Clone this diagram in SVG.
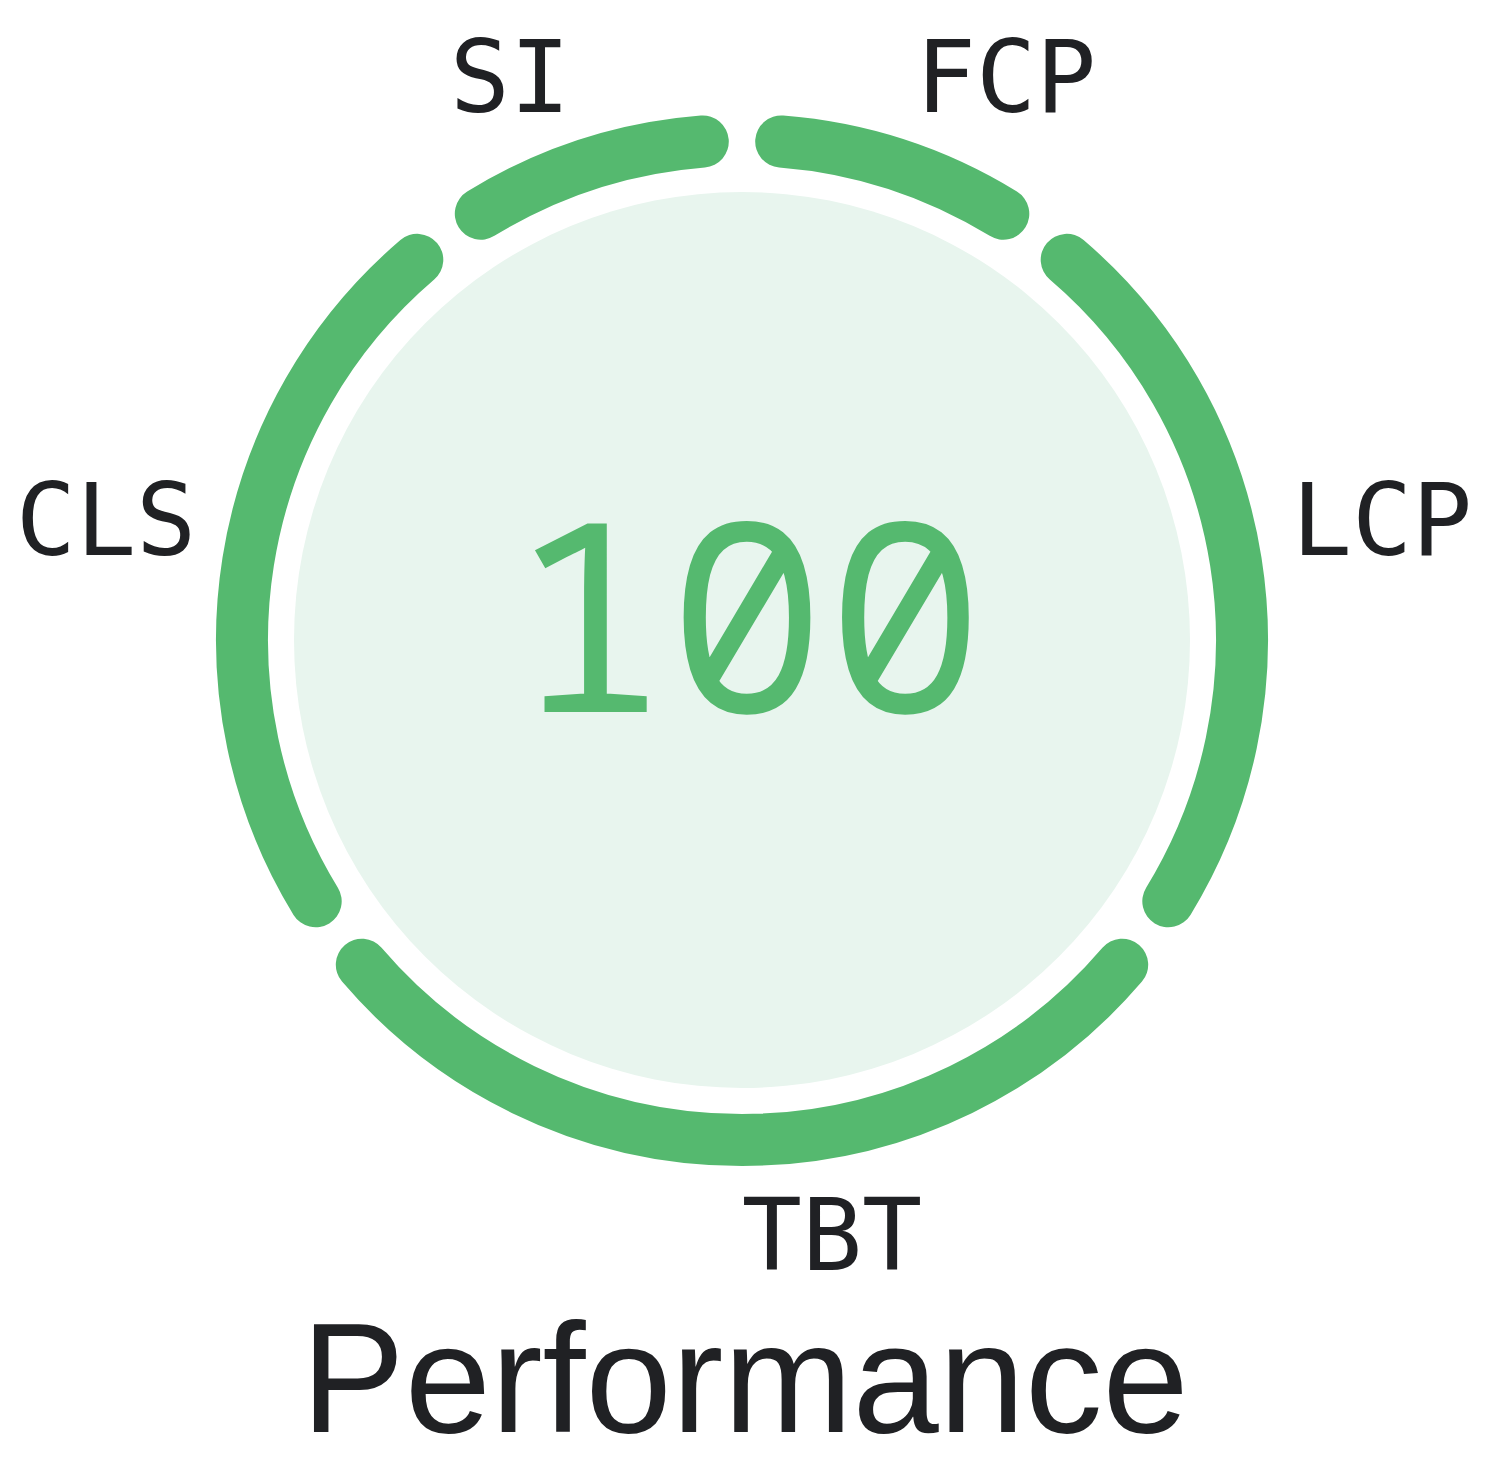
<svg xmlns="http://www.w3.org/2000/svg" width="1494" height="1468" viewBox="0 0 1494 1468">
  <style>
    .arc { fill: none; stroke: #55b96f; stroke-width: 52; stroke-linecap: round; }
    .lbl { font-family: "DejaVu Sans Mono", "Liberation Mono", monospace; font-size: 100px; fill: #202124; text-anchor: middle; }
    .score { font-family: "Noto Sans Mono", "DejaVu Sans Mono", monospace; font-size: 264px; fill: #55b96f; text-anchor: middle; }
    .title { font-family: "Liberation Sans", Arial, sans-serif; font-size: 155px; fill: #202124; text-anchor: middle; }
  </style>
  <rect width="1494" height="1468" fill="#ffffff"/>
  <g id="gauge-base">
    <circle cx="742" cy="640" r="448" fill="#e8f5ee"/>
  </g>
  <g id="connectors">
    <path id="arc-fcp" class="arc" d="M781.2,141.5 A500,500 0 0 1 1003.3,213.7"/>
    <path id="arc-lcp" class="arc" d="M1066.7,259.8 A500,500 0 0 1 1168.3,901.3"/>
    <path id="arc-tbt" class="arc" d="M1122.2,964.7 A500,500 0 0 1 361.8,964.7"/>
    <path id="arc-cls" class="arc" d="M315.7,901.3 A500,500 0 0 1 417.3,259.8"/>
    <path id="arc-si" class="arc" d="M480.8,213.7 A500,500 0 0 1 702.8,141.5"/>
  </g>
  <g id="score"><text class="score" x="747" y="712">100</text></g>
  <g id="label-si"><text class="lbl" x="510" y="112">SI</text></g>
  <g id="label-fcp"><text class="lbl" x="1006" y="112">FCP</text></g>
  <g id="label-lcp"><text class="lbl" x="1382" y="555">LCP</text></g>
  <g id="label-cls"><text class="lbl" x="106" y="555">CLS</text></g>
  <g id="label-tbt"><text class="lbl" x="832" y="1270">TBT</text></g>
  <g id="title"><text class="title" x="745" y="1432">Performance</text></g>
</svg>
